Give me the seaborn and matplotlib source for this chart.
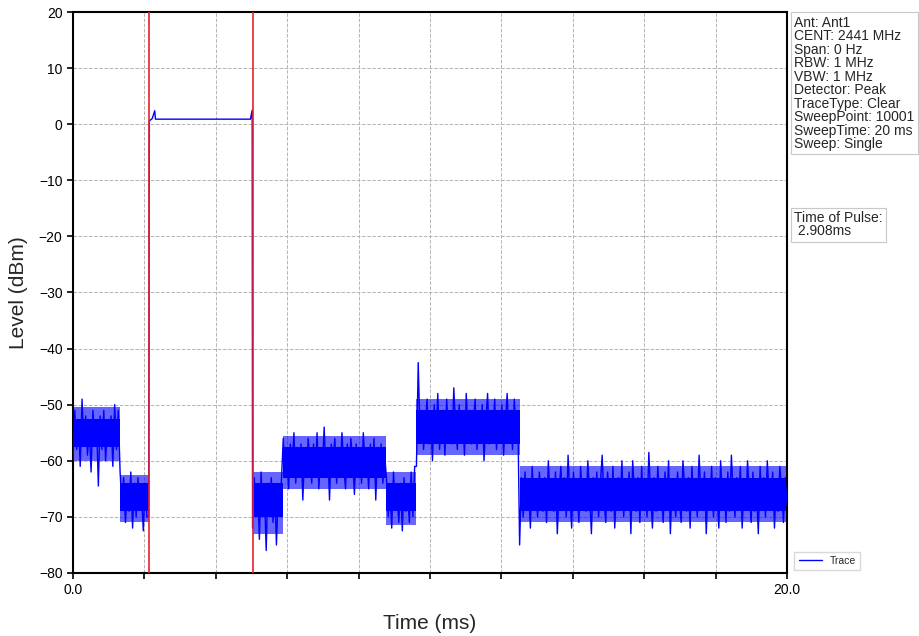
import numpy as np
import pandas as pd
import matplotlib
matplotlib.use("Agg")
import matplotlib.pyplot as plt
import seaborn as sns

# zero-span trace (level in dBm)
seg_times = [(0.0, 1.32), (1.32, 2.12), (5.03, 5.89), (5.89, 8.78),
             (8.78, 9.62), (9.62, 12.51), (12.51, 20.0)]

# solid part of the noise band in each segment
core_lo = [-57.5, -69, -70, -63, -69, -57, -69]
core_hi = [-52.5, -64, -64, -57.5, -64, -51, -63]
# hairy fringe around it
fringe_lo = [-60, -71, -73, -65, -71.5, -59, -71]
fringe_hi = [-50.5, -62.5, -62, -55.5, -62, -49, -61]

# individual samples (the spikes sticking out of the band)
lvl_a = [-60, -51, -58, -53, -61, -49, -57, -52, -59, -54, -62, -51, -56,
         -53, -64.5, -52, -58, -51, -60, -54, -57, -52, -61, -50, -58, -51]
lvl_b = [-62, -68, -63, -71, -65, -69, -62, -72, -64, -70, -63, -68, -66,
         -72.5, -64, -70]
lvl_c = [-72, -63, -69, -65, -74, -62, -70, -66, -76, -64, -68, -63, -71,
         -65, -75, -66, -69, -63]
lvl_d = [-56, -63, -58, -65, -57, -61, -55, -64, -59, -62, -57, -67, -58,
         -63, -56, -60, -64, -57, -62, -55, -65, -59, -61, -54, -63, -58,
         -67, -57, -60, -56, -64, -58, -62, -55, -61, -65, -57, -63, -56,
         -60, -66, -57, -62, -58, -64, -55, -61, -59, -65, -57, -63, -56,
         -67, -58, -62, -57, -64, -59]
lvl_e = [-63, -70, -65, -72, -62, -68, -66, -71, -64, -72.5, -63, -69, -66,
         -71, -62, -70, -61]
lvl_f = [-61, -42.5, -55, -51, -58, -53, -49, -57, -52, -60, -50, -56, -48,
         -58, -53, -51, -59, -49, -55, -52, -57, -47, -54, -58, -50, -56,
         -52, -59, -48, -55, -51, -57, -53, -49, -58, -52, -56, -50, -60,
         -53, -48, -57, -51, -55, -49, -58, -52, -56, -50, -59, -53, -48,
         -56, -51, -58, -49, -55, -52]
lvl_g = [-75, -63, -70, -62, -68, -65, -72, -61, -67, -64, -70, -62, -66, -69, -63,
         -71, -60, -67, -64, -69, -62, -73, -65, -61, -68, -63, -70, -59, -66, -72,
         -62, -68, -64, -71, -61, -67, -65, -69, -60, -66, -73, -63, -68, -62, -70,
         -64, -59, -67, -71, -62, -66, -69, -61, -72, -65, -63, -68, -60, -70, -64,
         -67, -62, -73, -60, -66, -69, -63, -71, -61, -68, -64, -70, -58.5, -66, -72,
         -63, -69, -61, -67, -65, -71, -62, -68, -60, -73, -64, -66, -70, -62, -67,
         -71, -60, -65, -69, -63, -72, -61, -67, -64, -70, -59, -66, -68, -62, -73,
         -64, -68, -61, -70, -63, -66, -72, -60, -67, -65, -71, -62, -69, -59, -66,
         -70, -63, -67, -61, -72, -64, -68, -60, -66, -71, -62, -69, -65, -73, -61,
         -67, -63, -70, -60, -66, -68, -62, -72, -64, -69, -61, -65, -71, -63, -68]

# the burst itself
pulse_t = [2.12, 2.14, 2.22, 2.29, 2.31, 2.40, 4.97, 5.02, 5.029]
pulse_v = [-70, 0.6, 1.0, 2.4, 0.9, 0.9, 0.9, 2.5, -72]

marker_t = [2.12, 5.03]   # red markers, 2.908 ms apart

info = ("Ant: Ant1\nCENT: 2441 MHz\nSpan: 0 Hz\nRBW: 1 MHz\nVBW: 1 MHz\n"
        "Detector: Peak\nTraceType: Clear\nSweepPoint: 10001\n"
        "SweepTime: 20 ms\nSweep: Single")
pulse_info = "Time of Pulse:\n 2.908ms"

levels = [lvl_a, lvl_b, lvl_c, lvl_d, lvl_e, lvl_f, lvl_g]
ts, vs = [], []
for i, ((t0, t1), lv) in enumerate(zip(seg_times, levels)):
    last = i == len(levels) - 1
    ts.extend(np.linspace(t0, t1, len(lv), endpoint=last))
    vs.extend(lv)
    if i == 1:
        ts.extend(pulse_t)
        vs.extend(pulse_v)
df = pd.DataFrame({"time": ts, "level": vs})

sns.set_style("ticks")
plt.rcParams["font.family"] = ["Liberation Sans", "DejaVu Sans"]

fig = plt.figure(figsize=(9.19, 6.36), dpi=100)
ax = fig.add_axes([0.0794, 0.0991, 0.777, 0.882])
ax.set_axisbelow(True)

blue = "#0000ff"
for k, (t0, t1) in enumerate(seg_times):
    ax.fill_between([t0, t1], fringe_lo[k], fringe_hi[k], color=blue,
                    alpha=0.6, lw=0, zorder=2)
    ax.fill_between([t0, t1], core_lo[k], core_hi[k], color=blue, lw=0,
                    zorder=2)
sns.lineplot(data=df, x="time", y="level", ax=ax, color=blue, lw=1.0,
             estimator=None, sort=False, label="Trace", zorder=3)
for t in marker_t:
    ax.axvline(t, color="#e8202a", lw=1.2, zorder=5)

ax.set_xlim(0, 20)
ax.set_ylim(-80, 20)
ax.set_xticks(np.arange(0, 21, 2))
ax.set_xticklabels(["0.0"] + [""] * 9 + ["20.0"])
ax.set_yticks(np.arange(-80, 21, 10))
ax.tick_params(labelsize=10, length=4, width=1.2, colors="black")
ax.grid(True, ls="--", color="#b5b5b5", lw=0.7)
for s in ax.spines.values():
    s.set_visible(True)
    s.set_linewidth(1.5)
    s.set_color("black")

ax.set_xlabel("Time (ms)", fontsize=15, labelpad=12)
ax.set_ylabel("Level (dBm)", fontsize=15, labelpad=8)

box = dict(boxstyle="square,pad=0.25", fc="white", ec="#c8c8c8", lw=0.8)
fig.text(0.8645, 0.975, info, fontsize=10, va="top", ha="left",
         linespacing=0.95, bbox=box)
pbox = dict(boxstyle="square,pad=0.25", fc="white", ec="#c8c8c8", lw=0.8)
fig.text(0.8645, 0.668, pulse_info, fontsize=10, va="top", ha="left",
         linespacing=0.9, bbox=pbox)

ax.legend(loc="lower left", bbox_to_anchor=(1.006, 0.0), fontsize=7.5,
          frameon=True, fancybox=False, edgecolor="#d0d0d0",
          handlelength=2.2, borderaxespad=0.3)

fig.savefig("out.png", dpi=100)
